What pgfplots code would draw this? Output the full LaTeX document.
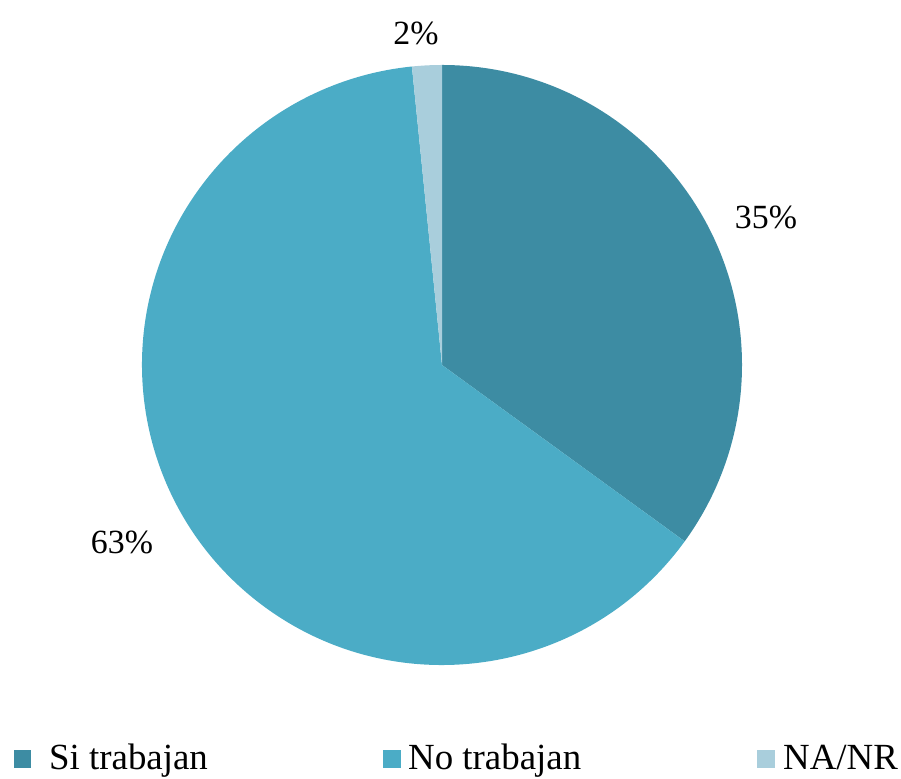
\documentclass[border=0pt]{standalone}
\usepackage{pgfplots}
\usepackage{pgfplotstable}
\pgfplotsset{compat=1.18}
\usepackage{fontspec}
\setmainfont{Liberation Serif}
\definecolor{cA}{HTML}{3D8CA3}
\definecolor{cB}{HTML}{4BACC6}
\definecolor{cC}{HTML}{A9CEDC}
\pgfplotstableread{
label value
Si 35.0
No 63.4
NA 1.6
}\piedata
\begin{document}%
\begin{tikzpicture}
\pgfplotstablegetelem{0}{value}\of\piedata \let\va\pgfplotsretval
\pgfplotstablegetelem{1}{value}\of\piedata \let\vb\pgfplotsretval
\pgfplotstablegetelem{2}{value}\of\piedata \let\vc\pgfplotsretval
\pgfmathsetmacro\aA{90}
\pgfmathsetmacro\aB{90-3.6*\va}
\pgfmathsetmacro\aC{\aB-3.6*\vb}
\pgfmathsetmacro\aD{\aC-3.6*\vc}
\begin{axis}[hide axis, x=1bp, y=1bp, xmin=0, xmax=901, ymin=0, ymax=779,
  scale only axis, clip=false]
\coordinate (ll) at (axis cs:0,0);
\coordinate (ur) at (axis cs:901,779);
\fill[cA] (axis cs:442,414) -- ++(\aA:300bp) arc[start angle=\aA, end angle=\aB, radius=300bp] -- cycle;
\fill[cB] (axis cs:442,414) -- ++(\aB:300bp) arc[start angle=\aB, end angle=\aC, radius=300bp] -- cycle;
\fill[cC] (axis cs:442,414) -- ++(\aC:300bp) arc[start angle=\aC, end angle=\aD, radius=300bp] -- cycle;
\node[font=\fontsize{34}{40}\selectfont] at (axis cs:766,562) {35\%};
\node[font=\fontsize{34}{40}\selectfont] at (axis cs:122,237) {63\%};
\node[font=\fontsize{34}{40}\selectfont] at (axis cs:416,746) {2\%};
\fill[cA] (axis cs:14,11) rectangle (axis cs:31,29);
\fill[cB] (axis cs:383,11) rectangle (axis cs:401,29);
\fill[cC] (axis cs:757,11) rectangle (axis cs:775,29);
\node[font=\fontsize{37}{42}\selectfont, anchor=base west, inner sep=0pt] at (axis cs:49,9) {Si trabajan};
\node[font=\fontsize{37}{42}\selectfont, anchor=base west, inner sep=0pt] at (axis cs:408,9) {No trabajan};
\node[font=\fontsize{37}{42}\selectfont, anchor=base west, inner sep=0pt] at (axis cs:783,9) {NA/NR};
\end{axis}
\pgfresetboundingbox
\path[use as bounding box] (ll) rectangle (ur);
\end{tikzpicture}%
\end{document}
